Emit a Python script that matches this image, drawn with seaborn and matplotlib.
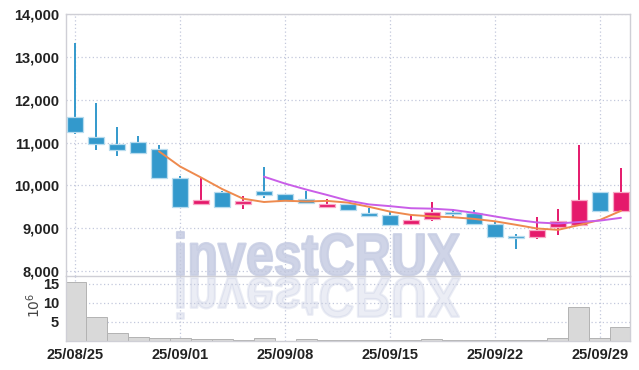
import numpy as np
import pandas as pd
import seaborn as sns
import matplotlib.pyplot as plt
from matplotlib.textpath import TextPath
from matplotlib.patches import PathPatch
from matplotlib.font_manager import FontProperties
from matplotlib.transforms import Affine2D, IdentityTransform

# trading days shown on the chart
dates = pd.bdate_range("2025-08-25", "2025-09-30")

# daily OHLC (KRW)
opens = [11600, 11130, 10970, 11010, 10850, 10170, 9560, 9840, 9570, 9880,
         9790, 9680, 9500, 9570, 9350, 9300, 9090, 9210, 9390, 9350,
         9090, 8820, 8800, 9030, 9070, 9840, 9400]
highs = [13320, 11930, 11370, 11150, 10950, 10230, 10200, 9880, 9760, 10440,
         9800, 9870, 9680, 9570, 9470, 9380, 9340, 9620, 9460, 9420,
         9170, 8860, 9270, 9460, 10950, 9840, 10400]
lows = [11190, 10820, 10680, 10740, 10170, 9490, 9550, 9480, 9460, 9700,
        9630, 9570, 9495, 9400, 9285, 9075, 9085, 9180, 9260, 9080,
        8800, 8510, 8760, 8840, 9060, 9400, 9400]
closes = [11250, 10960, 10830, 10760, 10170, 9490, 9670, 9490, 9630, 9780,
          9640, 9580, 9560, 9430, 9290, 9080, 9190, 9390, 9330, 9100,
          8800, 8780, 8960, 9170, 9660, 9400, 9840]
# volume in millions of shares
volumes = [15.45, 6.2, 2.1, 0.97, 0.7, 0.7, 0.45, 0.45, 0.18, 0.7,
           0.1, 0.45, 0.2, 0.2, 0.2, 0.2, 0.15, 0.45, 0.15, 0.2,
           0.2, 0.2, 0.2, 0.7, 8.87, 0.7, 3.6]

df = pd.DataFrame({"date": dates, "open": opens, "high": highs,
                   "low": lows, "close": closes, "volume": volumes})
df["idx"] = np.arange(len(df))
df["ma5"] = df["close"].rolling(5).mean()
df["ma10"] = df["close"].rolling(10).mean()

UP = "#e5196b"
DOWN = "#3399cc"
GRID = "#c3c8dc"
SPINE = "#cfcfd6"
TXT = "#222222"
WM = "#c7cde3"

sns.set_style("white")
plt.rcParams["font.family"] = ["Liberation Sans Narrow", "Liberation Sans", "DejaVu Sans"]

fig = plt.figure(figsize=(6.39, 3.70), dpi=100)
fig.patch.set_facecolor("white")
ax = fig.add_axes([66 / 639, 1 - 276 / 370, (630 - 66) / 639, (276 - 14) / 370])
axv = fig.add_axes([66 / 639, 1 - 341 / 370, (630 - 66) / 639, (341 - 276) / 370], sharex=ax)
for a in (ax, axv):
    a.set_facecolor("none")

# candles
up = df["close"] >= df["open"]
colors = np.where(up, UP, DOWN)
edges = np.where(up, "#f7a9c6", "#b7dbee")
ax.vlines(df["idx"], df["low"], df["high"], colors=colors, lw=1.4, zorder=2)
body_lo = np.minimum(df["open"], df["close"])
body_h = np.maximum((df["close"] - df["open"]).abs(), 15)
ax.bar(df["idx"], body_h, bottom=body_lo, width=0.72, color=colors,
       edgecolor=edges, linewidth=0.9, zorder=3)

# moving averages
sns.lineplot(data=df, x="idx", y="ma5", ax=ax, color="#ee8a4e", lw=1.4, zorder=4)
sns.lineplot(data=df, x="idx", y="ma10", ax=ax, color="#c95ee8", lw=1.4, zorder=4)

# volume
axv.bar(df["idx"], df["volume"], width=1.0, color="#d9d9d9",
        edgecolor="#b3b3b3", linewidth=0.7, zorder=2)

ax.set_xlim(-0.43, 26.43)
ax.set_ylim(7885, 14000)
axv.set_ylim(0, 17.1)

ax.set_yticks(np.arange(8000, 14001, 1000))
ax.set_yticklabels([f"{v:,}" for v in range(8000, 14001, 1000)])
axv.set_yticks([5, 10, 15])
tick_pos = [0, 5, 10, 15, 20, 25]
axv.set_xticks(tick_pos)
axv.set_xticklabels([dates[i].strftime("%y/%m/%d") for i in tick_pos])
ax.tick_params(axis="x", labelbottom=False)

for a in (ax, axv):
    a.set_xlabel("")
    a.set_ylabel("")
    a.grid(True, color=GRID, linestyle=(0, (1, 2)), lw=0.9)
    a.set_axisbelow(True)
    a.tick_params(length=0, pad=5, labelsize=10.5, labelcolor=TXT)
    for lab in a.get_xticklabels() + a.get_yticklabels():
        lab.set_fontweight("bold")
    for s in a.spines.values():
        s.set_color(SPINE)
        s.set_linewidth(1)
axv.spines["top"].set_visible(False)

fig.text(34 / 639, 1 - 305 / 370, r"$10^6$", rotation=90, ha="center",
         va="center", fontsize=10, color="#444444", family="DejaVu Serif")

# watermark with reflection
fp = FontProperties(family=["Liberation Sans Narrow", "Liberation Sans"], weight="bold")
tp = TextPath((0, 0), "investCRUX", size=100, prop=fp)
bb = tp.get_extents()
cap = TextPath((0, 0), "C", size=100, prop=fp).get_extents()
x0, x1 = 177, 460
base = 370 - 275
cap_px = 42
sx = (x1 - x0) / bb.width
sy = cap_px / cap.height
tr = Affine2D().translate(-bb.x0, 0).scale(sx, sy).translate(x0, base)
fig.patches.append(PathPatch(tr.transform_path(tp), facecolor=WM,
                             edgecolor=WM, linewidth=1.6, joinstyle="round",
                             transform=IdentityTransform(), zorder=-1, alpha=0.85))
tr2 = Affine2D().translate(-bb.x0, 0).scale(sx, -sy * 0.95).translate(x0, base - 3)
fig.patches.append(PathPatch(tr2.transform_path(tp), facecolor=WM,
                             edgecolor=WM, linewidth=1.6, joinstyle="round",
                             transform=IdentityTransform(), zorder=-1, alpha=0.35))

fig.savefig("out.png", dpi=100)
